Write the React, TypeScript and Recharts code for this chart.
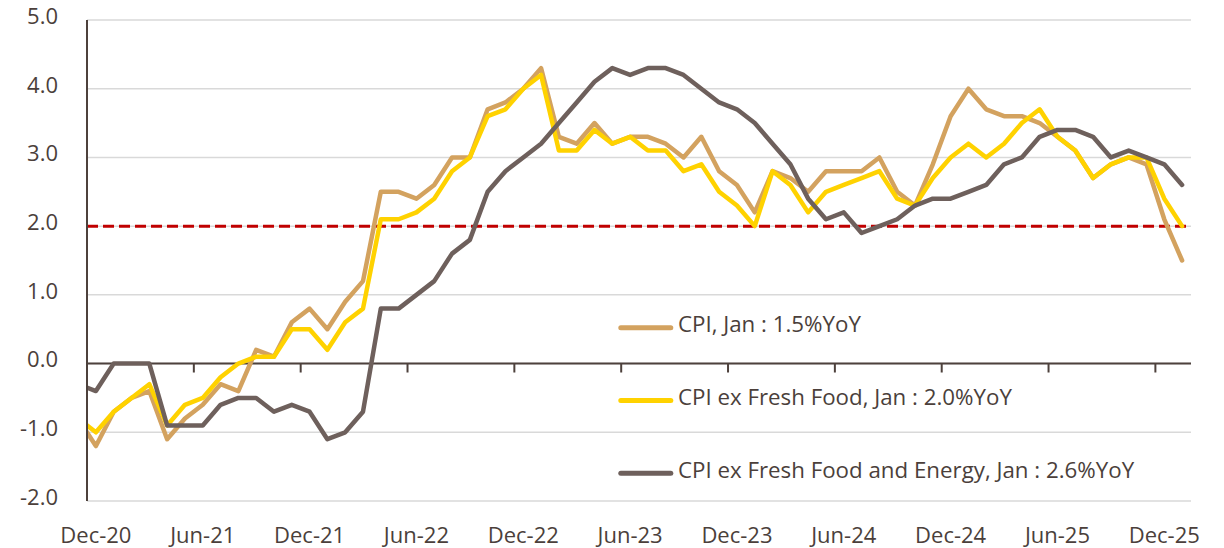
import { LineChart, Line, XAxis, YAxis, CartesianGrid, ReferenceLine, Legend } from "recharts";

// monthly YoY %, first month sits just left of the axis and gets clipped
const months = [
  "Nov-20", "Dec-20",
  "Jan-21", "Feb-21", "Mar-21", "Apr-21", "May-21", "Jun-21", "Jul-21", "Aug-21", "Sep-21", "Oct-21", "Nov-21", "Dec-21",
  "Jan-22", "Feb-22", "Mar-22", "Apr-22", "May-22", "Jun-22", "Jul-22", "Aug-22", "Sep-22", "Oct-22", "Nov-22", "Dec-22",
  "Jan-23", "Feb-23", "Mar-23", "Apr-23", "May-23", "Jun-23", "Jul-23", "Aug-23", "Sep-23", "Oct-23", "Nov-23", "Dec-23",
  "Jan-24", "Feb-24", "Mar-24", "Apr-24", "May-24", "Jun-24", "Jul-24", "Aug-24", "Sep-24", "Oct-24", "Nov-24", "Dec-24",
  "Jan-25", "Feb-25", "Mar-25", "Apr-25", "May-25", "Jun-25", "Jul-25", "Aug-25", "Sep-25", "Oct-25", "Nov-25", "Dec-25",
  "Jan-26",
];

const cpi = [
  -0.8, -1.2,
  -0.7, -0.5, -0.4, -1.1, -0.8, -0.6, -0.3, -0.4, 0.2, 0.1, 0.6, 0.8,
  0.5, 0.9, 1.2, 2.5, 2.5, 2.4, 2.6, 3.0, 3.0, 3.7, 3.8, 4.0,
  4.3, 3.3, 3.2, 3.5, 3.2, 3.3, 3.3, 3.2, 3.0, 3.3, 2.8, 2.6,
  2.2, 2.8, 2.7, 2.5, 2.8, 2.8, 2.8, 3.0, 2.5, 2.3, 2.9, 3.6,
  4.0, 3.7, 3.6, 3.6, 3.5, 3.3, 3.1, 2.7, 2.9, 3.0, 2.9, 2.1,
  1.5,
];

const cpiExFresh = [
  -0.8, -1.0,
  -0.7, -0.5, -0.3, -0.9, -0.6, -0.5, -0.2, 0.0, 0.1, 0.1, 0.5, 0.5,
  0.2, 0.6, 0.8, 2.1, 2.1, 2.2, 2.4, 2.8, 3.0, 3.6, 3.7, 4.0,
  4.2, 3.1, 3.1, 3.4, 3.2, 3.3, 3.1, 3.1, 2.8, 2.9, 2.5, 2.3,
  2.0, 2.8, 2.6, 2.2, 2.5, 2.6, 2.7, 2.8, 2.4, 2.3, 2.7, 3.0,
  3.2, 3.0, 3.2, 3.5, 3.7, 3.3, 3.1, 2.7, 2.9, 3.0, 3.0, 2.4,
  2.0,
];

const cpiExFreshEnergy = [
  -0.3, -0.4,
  0.0, 0.0, 0.0, -0.9, -0.9, -0.9, -0.6, -0.5, -0.5, -0.7, -0.6, -0.7,
  -1.1, -1.0, -0.7, 0.8, 0.8, 1.0, 1.2, 1.6, 1.8, 2.5, 2.8, 3.0,
  3.2, 3.5, 3.8, 4.1, 4.3, 4.2, 4.3, 4.3, 4.2, 4.0, 3.8, 3.7,
  3.5, 3.2, 2.9, 2.4, 2.1, 2.2, 1.9, 2.0, 2.1, 2.3, 2.4, 2.4,
  2.5, 2.6, 2.9, 3.0, 3.3, 3.4, 3.4, 3.3, 3.0, 3.1, 3.0, 2.9,
  2.6,
];

const tickLabels = ["Dec-20", "Jun-21", "Dec-21", "Jun-22", "Dec-22", "Jun-23", "Dec-23", "Jun-24", "Dec-24", "Jun-25", "Dec-25"];
const yTicks = [-2, -1, 0, 1, 2, 3, 4, 5];
const target = 2;

const series = [
  { key: "cpi", name: "CPI", color: "#D3A25F" },
  { key: "core", name: "CPI ex Fresh Food", color: "#FFD200" },
  { key: "coreCore", name: "CPI ex Fresh Food and Energy", color: "#6E605C" },
];

const TEXT = "#4B3F3B";
const AXIS = "#4D413C";
const FONT = "'Open Sans', sans-serif";

// Dec-20 sits at x = 0
const data = months.map((m, i) => ({
  x: i - 1,
  month: m,
  cpi: cpi[i],
  core: cpiExFresh[i],
  coreCore: cpiExFreshEnergy[i],
}));

const labelTicks = tickLabels.map((t) => months.indexOf(t) - 1);
const tickMarks = labelTicks.slice(1).map((x) => x - 0.5);
const lastMonth = months[months.length - 1].slice(0, 3);

const XTick = ({ x, y, payload }: any) => (
  <text x={x} y={y} dy="0.71em" textAnchor="middle" fill={TEXT} fontSize={22} fontFamily={FONT}>
    {months[payload.value + 1]}
  </text>
);

const YTick = ({ x, y, payload }: any) => (
  <text x={x} y={y - 4} dy="0.36em" textAnchor="end" fill={TEXT} fontSize={22} fontFamily={FONT}>
    {payload.value.toFixed(1)}
  </text>
);

const LegendBox = () => (
  <svg width={600} height={220} style={{ overflow: "visible" }}>
    {series.map((s, i) => {
      const y = 37.7 + i * 72.8;
      const last = data[data.length - 1][s.key as "cpi"];
      return (
        <g key={s.key}>
          <line x1={10.8} x2={60.8} y1={y} y2={y} stroke={s.color} strokeWidth={5} strokeLinecap="round" />
          <text x={68} y={y + 4.3} fill={TEXT} fontSize={22.3} fontFamily={FONT}>
            {`${s.name}, ${lastMonth} : ${last.toFixed(1)}%YoY`}
          </text>
        </g>
      );
    })}
  </svg>
);

export default function App() {
  return (
    <div style={{ position: "absolute", left: 0, top: 0, background: "#fff" }}>
      <LineChart width={1224} height={548} data={data} margin={{ top: 20, right: 33, left: 27, bottom: 7 }}>
        <CartesianGrid vertical={false} stroke="#D9D9D9" strokeWidth={1.5} />
        <XAxis
          dataKey="x"
          type="number"
          domain={[-0.5, 61.5]}
          allowDataOverflow
          ticks={labelTicks}
          interval={0}
          tick={<XTick />}
          tickLine={false}
          axisLine={false}
          tickSize={6}
          tickMargin={20}
          height={40}
        />
        <YAxis
          domain={[-2, 5]}
          ticks={yTicks}
          interval={0}
          tick={<YTick />}
          tickLine={false}
          axisLine={{ stroke: AXIS, strokeWidth: 2 }}
          tickSize={6}
          tickMargin={23}
          width={60}
        />
        <ReferenceLine y={0} stroke={AXIS} strokeWidth={2} />
        {tickMarks.map((x) => (
          <ReferenceLine
            key={x}
            segment={[{ x, y: 0 }, { x, y: -0.13 }]}
            stroke={AXIS}
            strokeWidth={2}
          />
        ))}
        <ReferenceLine y={target} stroke="#C00000" strokeWidth={3} strokeDasharray="11 5" />
        {series.map((s) => (
          <Line
            key={s.key}
            type="linear"
            dataKey={s.key}
            name={s.name}
            stroke={s.color}
            strokeWidth={4.5}
            strokeLinejoin="round"
            strokeLinecap="round"
            dot={false}
            activeDot={false}
            isAnimationActive={false}
          />
        ))}
        <Legend
          layout="vertical"
          align="center"
          verticalAlign="middle"
          content={<LegendBox />}
          wrapperStyle={{ left: 610, top: 290, width: 600, height: 220 }}
        />
      </LineChart>
    </div>
  );
}
